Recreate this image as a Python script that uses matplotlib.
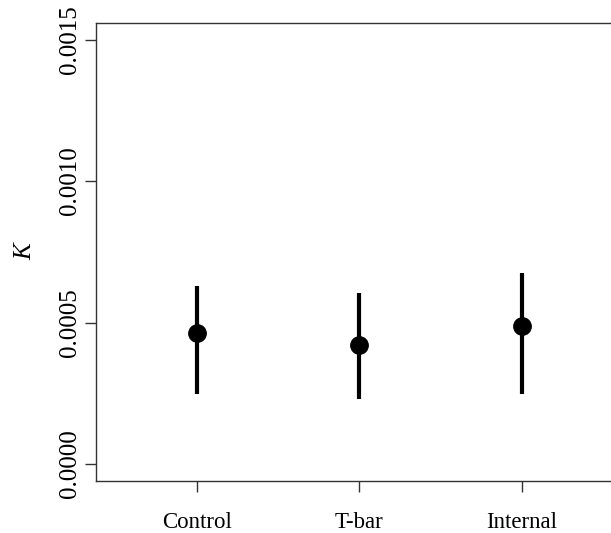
import numpy as np
import matplotlib
matplotlib.use("Agg")
from matplotlib import pyplot as plt

# values
groups = ["Control", "T-bar", "Internal"]
k_mean = [0.000463, 0.000419, 0.000487]
k_lower = [0.000248, 0.000228, 0.000246]
k_upper = [0.000629, 0.000606, 0.000674]
y_ticks = [0.0, 0.0005, 0.0010, 0.0015]
y_ticklabels = ["0.0000", "0.0005", "0.0010", "0.0015"]

plt.rcParams["font.family"] = ["Liberation Serif", "DejaVu Serif"]

fig = plt.figure(figsize=(6.11, 5.33), dpi=100)
# right edge of the box runs off the figure, as in the reference
ax = fig.add_axes([0.157, 0.0976, 0.856, 0.860])

x = np.arange(1, len(groups) + 1)
mean = np.array(k_mean)
err = [mean - np.array(k_lower), np.array(k_upper) - mean]
ax.errorbar(x, mean, yerr=err, fmt="o", color="black", ecolor="black",
            markersize=12.5, elinewidth=3, capsize=0)

ax.set_xlim(0.378, 3.6)
ax.set_ylim(-0.00006, 0.00156)

ax.set_xticks(x)
ax.set_xticklabels(groups, fontsize=16.5)
ax.set_yticks(y_ticks)
ax.set_yticklabels(y_ticklabels, fontsize=18, rotation=90, va="center")

ax.tick_params(axis="x", length=8, width=1, color="#333333", pad=14)
ax.tick_params(axis="y", length=8, width=1, color="#333333", pad=3)
for s in ax.spines.values():
    s.set_linewidth(1)
    s.set_color("#333333")

ax.set_ylabel("K", fontsize=18, fontstyle="italic", labelpad=16)

fig.savefig("out.png", dpi=100)
